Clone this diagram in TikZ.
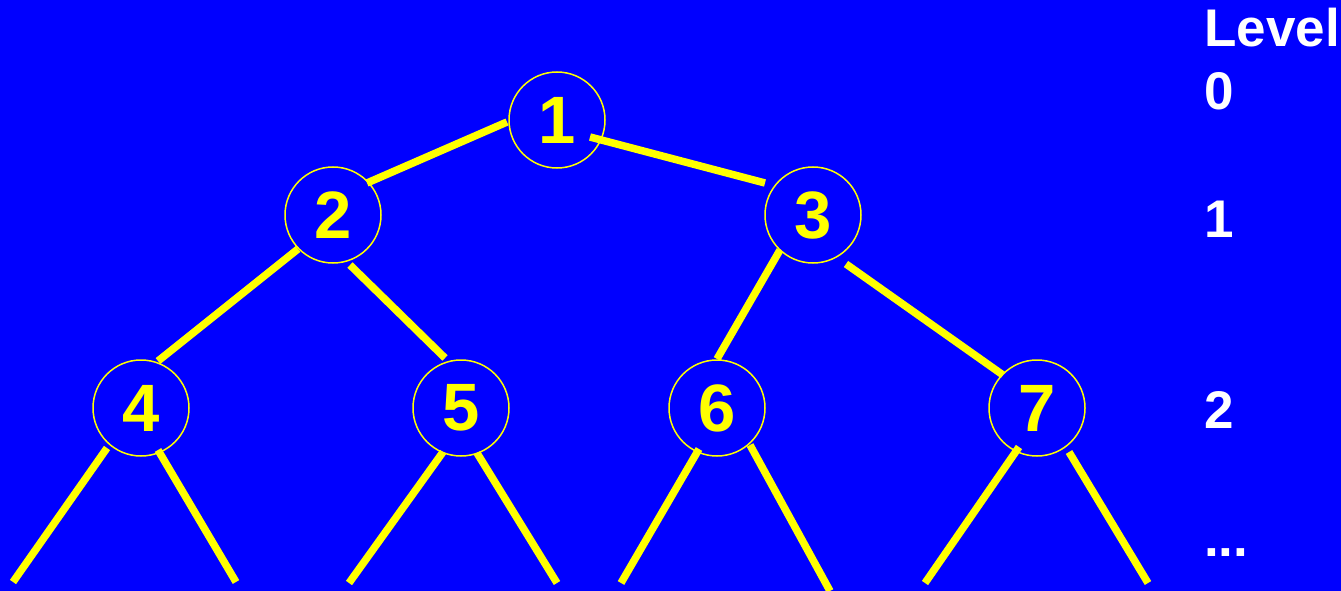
\documentclass[tikz,border=0pt]{standalone}
\usepackage{fontspec}
\setmainfont{Liberation Sans}
\definecolor{bg}{RGB}{0,0,255}
\definecolor{yel}{RGB}{255,255,0}
\tikzset{
  vert/.style={circle, draw=yel, line width=1.5pt, minimum size=96pt, inner sep=0pt,
    text=yel, font=\fontsize{67}{67}\selectfont\bfseries},
  edge/.style={draw=yel, line width=7.5pt, line cap=butt},
  lvl/.style={anchor=base west, inner sep=0pt, text=white, font=\fontsize{53}{53}\selectfont\bfseries}
}
\begin{document}
\begin{tikzpicture}[x=1pt,y=-1pt]
\fill[bg] (0,0) rectangle (1341,591);
\useasboundingbox (0,0) rectangle (1341,591);
\node[vert] (n1) at (557,120) {1};
\node[vert] (n2) at (333,215) {2};
\node[vert] (n3) at (813,215) {3};
\node[vert] (n4) at (141,408) {4};
\node[vert] (n5) at (461,408) {5};
\node[vert] (n6) at (717,408) {6};
\node[vert] (n7) at (1037,408) {7};
% free ends
\coordinate (l4a) at (13,582);
\coordinate (l4b) at (236,582);
\coordinate (l5a) at (349,583);
\coordinate (l5b) at (557,583);
\coordinate (l6a) at (621,583);
\coordinate (l6b) at (830,591);
\coordinate (l7a) at (925,583);
\coordinate (l7b) at (1148,583);
% edges
\draw[edge] ([shift={(-50,2)}]n1.center) -- ([shift={(34,-32)}]n2.center);
\draw[edge] ([shift={(33,17)}]n1.center) -- ([shift={(-48,-32)}]n3.center);
\draw[edge] ([shift={(-35,34)}]n2.center) -- ([shift={(17,-47)}]n4.center);
\draw[edge] ([shift={(17,50)}]n2.center) -- ([shift={(-16,-50)}]n5.center);
\draw[edge] ([shift={(-33,35)}]n3.center) -- ([shift={(0,-49)}]n6.center);
\draw[edge] ([shift={(33,49)}]n3.center) -- ([shift={(-34,-33)}]n7.center);
\draw[edge] ([shift={(-34,40)}]n4.center) -- (l4a);
\draw[edge] ([shift={(17,42)}]n4.center) -- (l4b);
\draw[edge] ([shift={(-18,44)}]n5.center) -- (l5a);
\draw[edge] ([shift={(16,45)}]n5.center) -- (l5b);
\draw[edge] ([shift={(-18,41)}]n6.center) -- (l6a);
\draw[edge] ([shift={(33,37)}]n6.center) -- (l6b);
\draw[edge] ([shift={(-18,39)}]n7.center) -- (l7a);
\draw[edge] ([shift={(32,44)}]n7.center) -- (l7b);
% level labels
\node[lvl] (lv) at (1204,47) {Level};
\node[lvl] (lv0) at (1204,110) {0};
\node[lvl] (lv1) at (1204,237) {1};
\node[lvl] (lv2) at (1204,428) {2};
\node[lvl] (lvd) at (1204,556) {...};
\end{tikzpicture}
\end{document}
